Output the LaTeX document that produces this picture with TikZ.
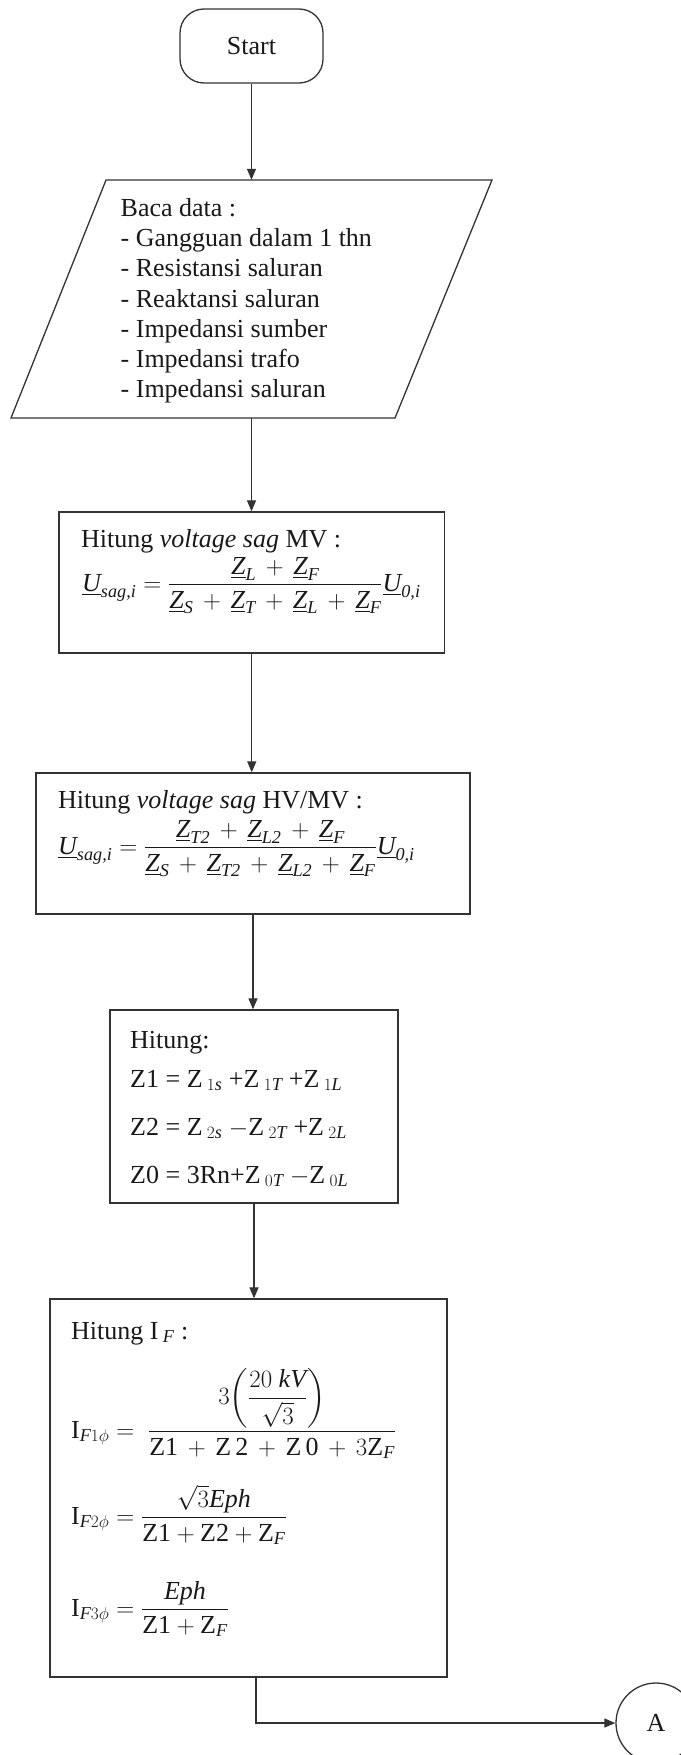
\documentclass[tikz,border=0pt]{standalone}
\usepackage{amsmath}
\usepackage{fontspec}
\setmainfont{Liberation Serif}
\usetikzlibrary{arrows.meta,calc}
\newcommand{\ti}[1]{\textit{#1}}
\newcommand{\uZ}[1]{\underline{\textit{Z}}_{\textit{#1}}}
\newcommand{\uU}[1]{\underline{\textit{U}}_{\textit{#1}}}
\newcommand{\pl}{\,+\,}
\begin{document}
\begin{tikzpicture}[x=1pt,y=-1pt,
  every node/.style={font=\fontsize{26}{30}\selectfont, inner sep=0pt, text=black!90},
  ln/.style={draw=black!80, line width=1.3pt},
  arr/.style={draw=black!80, line width=1.2pt, -{Triangle[length=11pt,width=9pt]}},
  txt/.style={anchor=base west},
  box/.style={ln, rectangle},
]
\useasboundingbox (0,0) rectangle (680,1755);

% Start
\node[ln, rounded corners=24pt, minimum width=143pt, minimum height=74pt] (start) at (251.5,46) {Start};

% Input parallelogram
\node[minimum width=290pt, minimum height=238pt] (read) at (251.5,299) {};
\draw[ln] (106,180) -- (492,180) -- (395,418) -- (11,418) -- cycle;
\node[txt] (r1) at (120.5,216) {Baca data :};
\node[txt] (r2) at (120.5,246) {- Gangguan dalam 1 thn};
\node[txt] (r3) at (120.5,276) {- Resistansi saluran};
\node[txt] (r4) at (120.5,307) {- Reaktansi saluran};
\node[txt] (r5) at (120.5,337) {- Impedansi sumber};
\node[txt] (r6) at (120.5,367) {- Impedansi trafo};
\node[txt] (r7) at (120.5,397) {- Impedansi saluran};

% Box 1
\node[box, minimum width=385.5pt, minimum height=141pt] (b1) at (251.75,582.5) {};
\node[txt] (b1t) at (81,547) {Hitung \textit{voltage sag} MV :};
\node[txt] (b1f) at (82,591) {$\displaystyle \uU{sag,i} = \frac{\uZ{L}\pl\uZ{F}}{\uZ{S}\pl\uZ{T}\pl\uZ{L}\pl\uZ{F}}\uU{0,i}$};

% Box 2
\node[box, minimum width=434pt, minimum height=141pt] (b2) at (253,843.5) {};
\node[txt] (b2t) at (58,808) {Hitung \textit{voltage sag} HV/MV :};
\node[txt] (b2f) at (58,854) {$\displaystyle \uU{sag,i} = \frac{\uZ{T2}\pl\uZ{L2}\pl\uZ{F}}{\uZ{S}\pl\uZ{T2}\pl\uZ{L2}\pl\uZ{F}}\uU{0,i}$};

% Box 3
\node[box, minimum width=288pt, minimum height=193pt] (b3) at (254,1106.5) {};
\node[txt] (b3a) at (130,1048) {Hitung:};
\node[txt] (b3b) at (130,1087) {Z1 = Z\,$_{1\textit{s}}$ +Z\,$_{1\textit{T}}$ +Z\,$_{1\textit{L}}$};
\node[txt] (b3c) at (130,1135) {Z2 = Z\,$_{2\textit{s}}$ $-$Z\,$_{2\textit{T}}$ +Z\,$_{2\textit{L}}$};
\node[txt] (b3d) at (130,1183) {Z0 = 3Rn+Z\,$_{0\textit{T}}$ $-$Z\,$_{0\textit{L}}$};

% Box 4
\node[box, minimum width=397pt, minimum height=378pt] (b4) at (248.5,1488) {};
\node[txt] (b4t) at (71,1339) {Hitung I\,$_{\textit{F}}$ :};
\node[txt] (b4a) at (71,1438) {$\displaystyle \mathrm{I}_{\textit{F}1\phi} = \;\frac{3\biggl(\dfrac{20\ \ti{kV}}{\sqrt{3}}\biggr)}{\mathrm{Z1}\pl\mathrm{Z\,2}\pl\mathrm{Z\,0}\pl 3\mathrm{Z}_{\textit{F}}}$};
\node[txt] (b4b) at (71,1524) {$\displaystyle \mathrm{I}_{\textit{F}2\phi} = \frac{\sqrt{3}\ti{Eph}}{\mathrm{Z1}+\mathrm{Z2}+\mathrm{Z}_{\textit{F}}}$};
\node[txt] (b4c) at (71,1616) {$\displaystyle \mathrm{I}_{\textit{F}3\phi} = \frac{\ti{Eph}}{\mathrm{Z1}+\mathrm{Z}_{\textit{F}}}$};

% Connector A
\node[ln, circle, minimum size=80pt] (A) at (656,1723) {A};

% Arrows
\draw[arr] (start.south) -- (start.south |- read.north);
\draw[arr] (read.south) -- (read.south |- b1.north);
\draw[arr] (b1.south) -- (b1.south |- b2.north);
\draw[arr] (b2.south) -- (b2.south |- b3.north);
\draw[arr] (b3.south) -- (b3.south |- b4.north);
\draw[arr] ([xshift=7.5pt]b4.south) |- (A.west);
\end{tikzpicture}
\end{document}
